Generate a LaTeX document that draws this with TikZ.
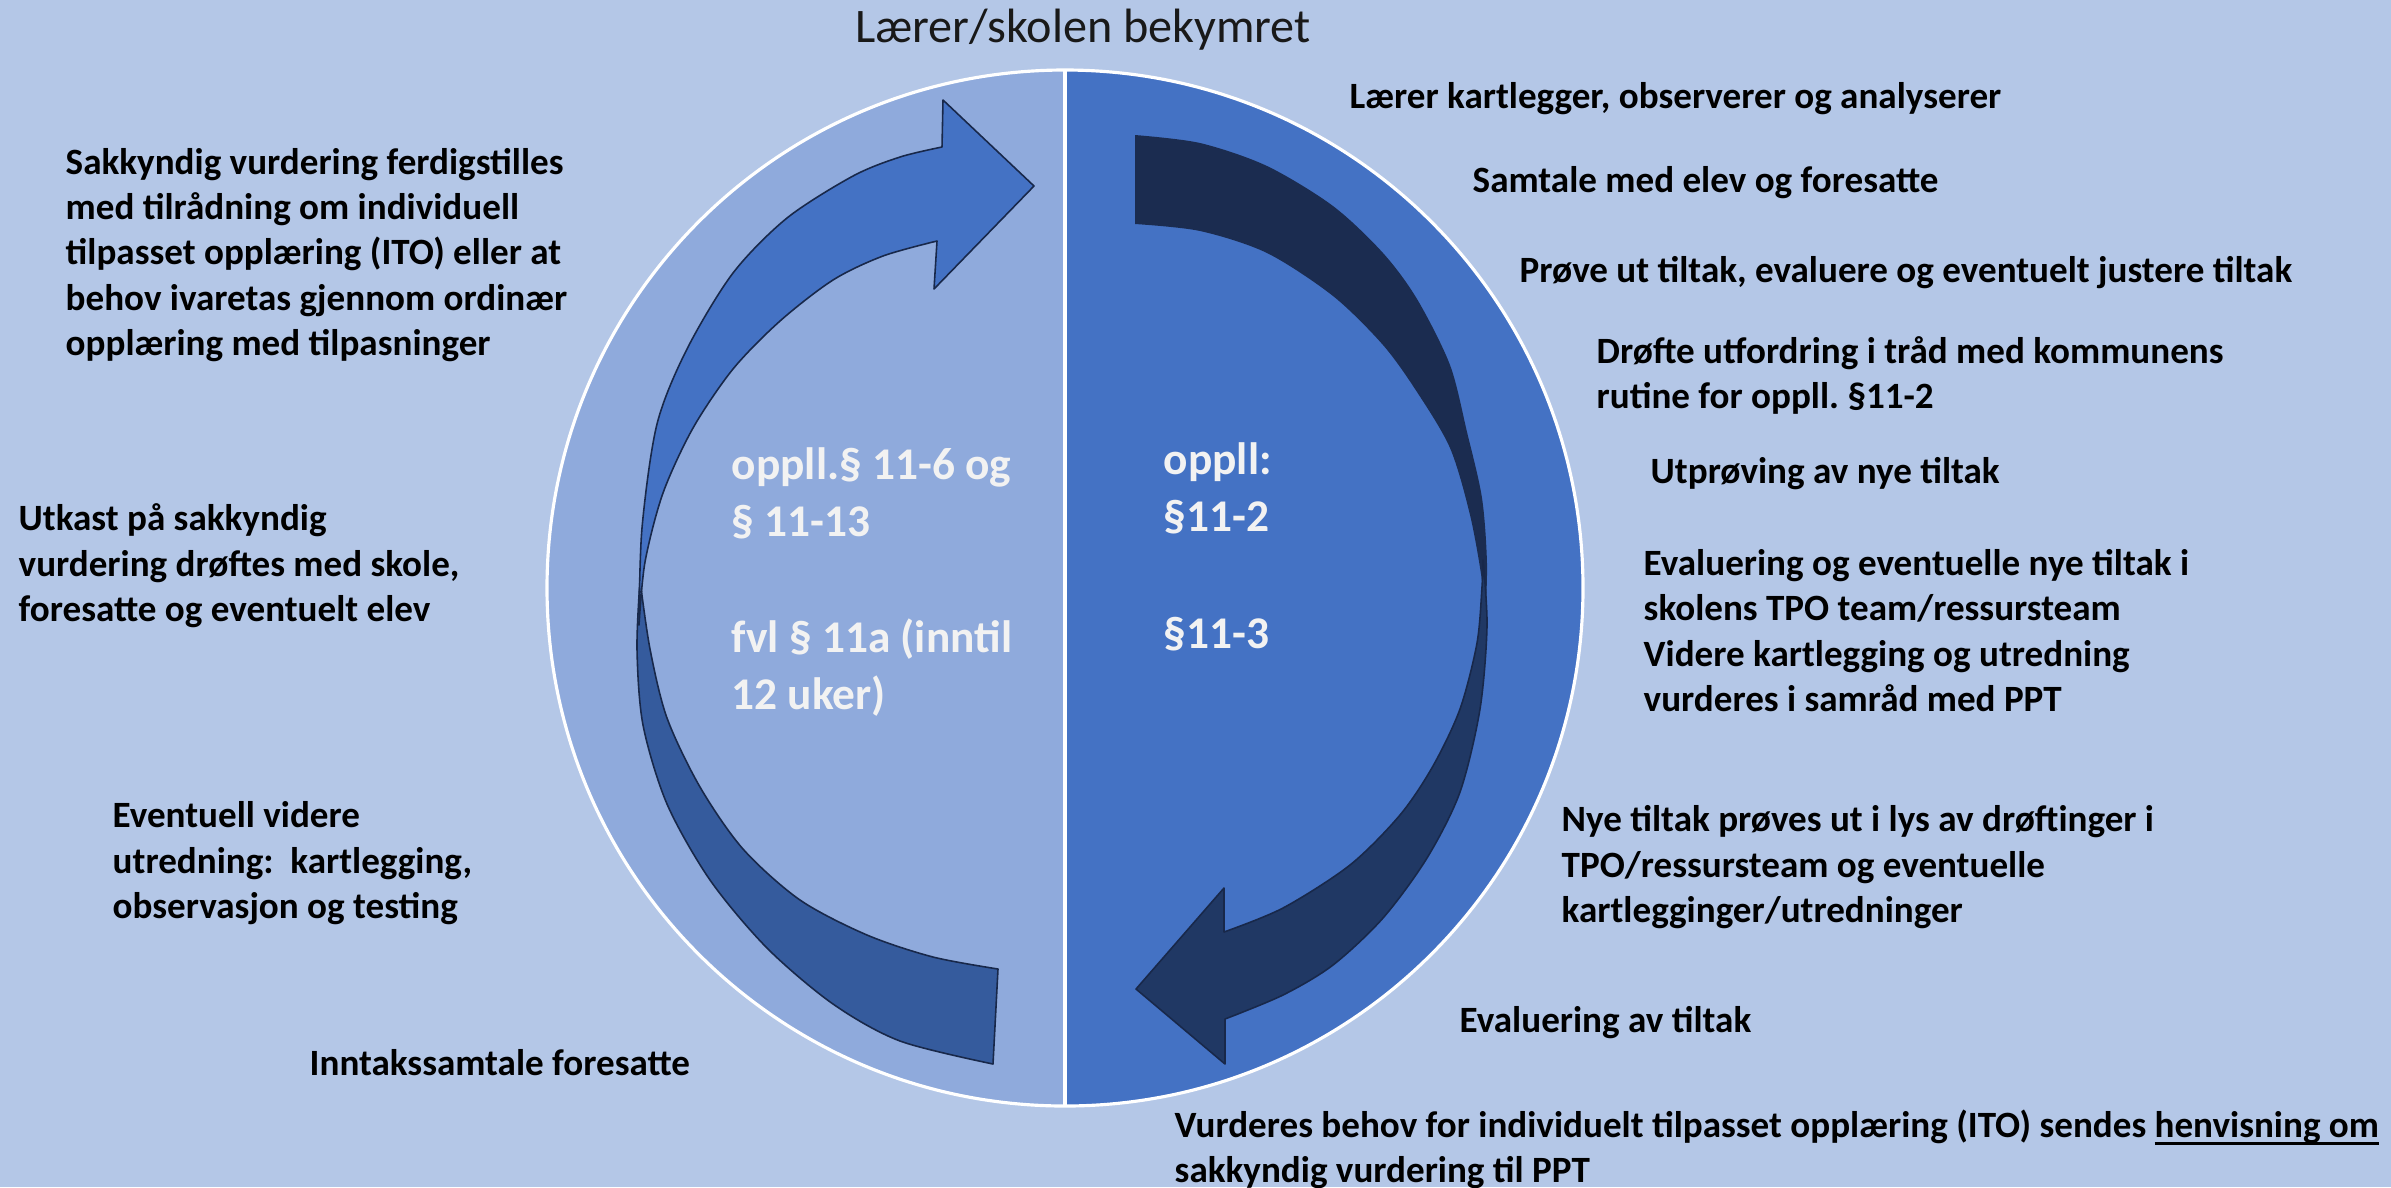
\documentclass[tikz,border=0pt]{standalone}
\usepackage{fontspec}
\setmainfont{Carlito}
\usepackage{xcolor}
\definecolor{ColBg}{RGB}{180,199,231}
\definecolor{ColLeft}{RGB}{143,170,220}
\definecolor{ColRight}{RGB}{68,114,196}
\definecolor{ColBackL}{RGB}{53,91,157}
\definecolor{ColBackR}{RGB}{27,44,80}
\definecolor{ColFrontR}{RGB}{32,56,100}
\definecolor{ColLine}{RGB}{24,40,74}
\definecolor{ColInner}{RGB}{242,242,242}
\usepackage{tikz}
\frenchspacing
\newcommand{\Uline}[1]{\setbox0\hbox{#1}\rlap{\rule[-2.3pt]{\wd0}{0.8pt}}\box0}
\tikzstyle{Label}=[anchor=base west,align=left,inner sep=0pt,
font=\bfseries\fontsize{10.55}{12.8}\selectfont]
\tikzstyle{Inner}=[anchor=base west,align=left,inner sep=0pt,text=ColInner,
font=\bfseries\fontsize{12.9}{16.2}\selectfont]
\tikzstyle{Title}=[anchor=base,inner sep=0pt,text=black!90,
font=\fontsize{13.7}{16}\selectfont]
\tikzstyle{Rim}=[draw=white,line width=0.9pt]
\tikzstyle{Arrow}=[draw=ColLine,line width=0.45pt,line join=round]

\begin{document}
\begin{tikzpicture}[x=0.01cm,y=-0.01cm]
    \useasboundingbox (0,0) rectangle (2391,1187);
    \clip (0,0) rectangle (2391,1187);
    \fill[ColBg] (0,0) rectangle (2391,1187);
    \coordinate (c) at (1065,588);
    \coordinate (top) at (1065,70);
    \coordinate (bot) at (1065,1106);
    % the two halves
    \begin{scope}
        \clip (0,0) rectangle (1065,1187);
        \fill[ColLeft] (c) circle[radius=518];
    \end{scope}
    \begin{scope}
        \clip (1065,0) rectangle (2391,1187);
        \fill[ColRight] (c) circle[radius=518];
    \end{scope}
    \draw[Rim] (c) circle[radius=518];
    \draw[Rim] (top)--(bot);
    % left arrow, back part
    \filldraw[Arrow,fill=ColBackL] plot[smooth] coordinates {(640,580) (637,649)
        (643,725) (667,804) (710,880) (767,948) (833,1004) (900,1041) (993,1064)}
        -- (998,969) -- plot[smooth] coordinates {(998,969) (933,957) (867,935)
        (800,900) (743,849) (700,787) (667,718) (650,649) (640,580)} -- cycle;
    % left arrow, front part
    \filldraw[Arrow,fill=ColRight] plot[smooth] coordinates {(639,625) (642,528)
        (657,424) (687,349) (733,273) (787,218) (853,176) (900,157) (942,147)}
        -- (943,100) -- (1034,186) -- (934,289) -- (937,241)
        -- plot[smooth] coordinates {(937,241) (883,256) (833,280) (780,321)
        (733,369) (693,428) (663,493) (645,562) (639,625)} -- cycle;
    % right arrow, back part
    \fill[ColBackR] (1135,135) -- plot[smooth] coordinates {(1135,135) (1200,143)
        (1267,166) (1333,206) (1383,253) (1417,299) (1450,365) (1467,432)
        (1482,498) (1487,564) (1485,625)}
        -- plot[smooth] coordinates {(1485,625) (1482,581) (1470,515) (1450,448)
        (1417,392) (1383,345) (1333,296) (1267,253) (1200,231) (1135,224)} -- cycle;
    % right arrow, front part
    \filldraw[Arrow,fill=ColFrontR] plot[smooth] coordinates {(1483,560) (1487,626)
        (1480,709) (1460,792) (1427,858) (1383,918) (1333,965) (1283,995) (1225,1019)}
        -- (1225,1064) -- (1136,989) -- (1224,888) -- (1224,932)
        -- plot[smooth] coordinates {(1224,932) (1283,908) (1350,865) (1400,815)
        (1433,766) (1460,709) (1477,643) (1482,587) (1483,560)} -- cycle;
    % texts in the circle (base = last line)
    \node[Inner] (lovA) at (731,536) {oppll.§ 11-6 og\\§ 11-13};
    \node[Inner] (lovB) at (731,709) {fvl § 11a (inntil\\12 uker)};
    \node[Inner] (lovC) at (1163,531) {oppll:\\§11-2};
    \node[Inner] (lovD) at (1163,648) {§11-3};
    \node[Title] (tittel) at (1083,42) {Lærer/skolen bekymret};
    % left side
    \node[Label] (sakkyndig) at (65,355) {Sakkyndig vurdering ferdigstilles\\
        med tilrådning om individuell\\tilpasset opplæring (ITO) eller at\\
        behov ivaretas gjennom ordinær\\opplæring med tilpasninger};
    \node[Label] (utkast) at (18,621) {Utkast på sakkyndig\\
        vurdering drøftes med skole,\\foresatte og eventuelt elev};
    \node[Label] (utredning) at (112,918) {Eventuell videre\\
        utredning:\ \ kartlegging,\\observasjon og testing};
    \node[Label] (inntak) at (309,1075) {Inntakssamtale foresatte};
    % right side
    \node[Label] (kartlegger) at (1349,108) {Lærer kartlegger, observerer og analyserer};
    \node[Label] (samtale) at (1472,192) {Samtale med elev og foresatte};
    \node[Label] (prove) at (1519,282) {Prøve ut tiltak, evaluere og eventuelt justere tiltak};
    \node[Label] (drofte) at (1596,408) {Drøfte utfordring i tråd med kommunens\\
        rutine for oppll. §11-2};
    \node[Label] (utproving) at (1650,483) {Utprøving av nye tiltak};
    \node[Label] (evalnye) at (1643,711) {Evaluering og eventuelle nye tiltak i\\
        skolens TPO team/ressursteam\\Videre kartlegging og utredning\\
        vurderes i samråd med PPT};
    \node[Label] (nyetiltak) at (1561,922) {Nye tiltak prøves ut i lys av drøftinger i\\
        TPO/ressursteam og eventuelle\\kartlegginger/utredninger};
    \node[Label] (evaltiltak) at (1459,1032) {Evaluering av tiltak};
    \node[Label] (henvisning) at (1174,1182) {Vurderes behov for individuelt
        tilpasset opplæring (ITO) sendes \Uline{henvisning om}\\
        sakkyndig vurdering til PPT};
\end{tikzpicture}
\end{document}
